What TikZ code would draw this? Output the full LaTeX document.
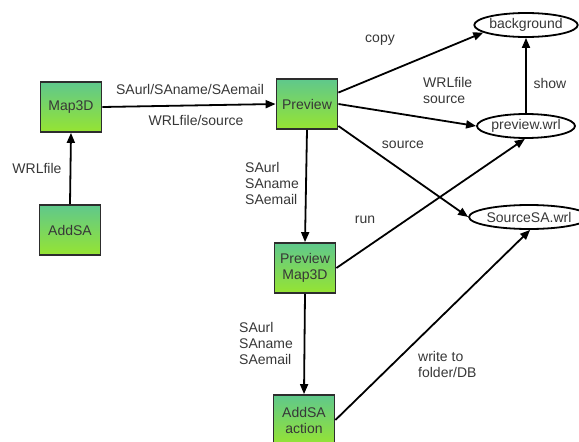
\documentclass[tikz,border=0pt]{standalone}
\usepackage{fontspec}
\setmainfont{Liberation Sans}
\usetikzlibrary{shapes.geometric,arrows.meta}
\definecolor{boxtop}{RGB}{95,200,140}
\definecolor{boxmid}{RGB}{50,190,80}
\definecolor{boxbot}{RGB}{150,228,50}
\definecolor{txt}{RGB}{55,55,55}
\definecolor{bord}{RGB}{45,45,45}
\tikzset{
  greenbox/.style={draw=bord, line width=1.8pt, top color=boxtop, middle color=boxmid, bottom color=boxbot,
    minimum width=61pt, minimum height=50pt, inner sep=0pt, align=center, text=txt},
  oval/.style={ellipse, draw=black, line width=1.8pt, minimum width=98pt, minimum height=24pt, inner sep=0pt, text=txt},
  lbl/.style={text=txt, inner sep=0pt},
  flow/.style={line width=1.8pt, -{Triangle[length=10pt,width=8pt]}}
}
\begin{document}
\begin{tikzpicture}[x=1pt,y=-1pt,font=\fontsize{14}{16}\selectfont]
\useasboundingbox (0,0) rectangle (579,442);
\begin{scope}
\clip (0,0) rectangle (579,442);
% boxes
\node[greenbox] (map) at (71,107) {Map3D};
\node[greenbox] (add) at (70,230) {AddSA};
\node[greenbox] (prev) at (307,104) {Preview};
\node[greenbox] (pm) at (305,268) {Preview\\Map3D};
\node[greenbox] (act) at (304,420) {AddSA\\action};
% ellipses
\node[oval] (bg) at (526,25) {background};
\node[oval] (pwrl) at (526,126) {preview.wrl};
\node[oval] (src) at (529,217) {SourceSA.wrl};
% connectors
\draw[flow] (add.north) -- (map.south);
\draw[flow] (map.east) -- (prev.west);
\draw[flow] (prev.20) -- (bg.190);
\draw[flow] (prev.east) -- (pwrl.west);
\draw[flow] (pwrl.north) -- (bg.south);
\draw[flow] (prev.-35) -- (src.west);
\draw[flow] (prev.south) -- (pm.north);
\draw[flow] (pm.east) -- (pwrl.265);
\draw[flow] (pm.south) -- (act.north);
\draw[flow] (act.east) -- (src.-85);
\end{scope}
% labels
\node[lbl] (l1) at (37,168) {WRLfile};
\node[lbl] (l2) at (190,89) {SAurl/SAname/SAemail};
\node[lbl] (l3) at (196,120) {WRLfile/source};
\node[lbl] (l4) at (380,40) {copy};
\node[lbl, anchor=west, align=left] (l5) at (423,90) {WRLfile\\source};
\node[lbl] (l6) at (550,83) {show};
\node[lbl] (l7) at (403,145) {source};
\node[lbl, anchor=west, align=left] (l8) at (245,183) {SAurl\\SAname\\SAemail};
\node[lbl] (l9) at (365,220) {run};
\node[lbl, anchor=west, align=left] (l10) at (239,343) {SAurl\\SAname\\SAemail};
\node[lbl, anchor=west, align=left] (l11) at (418,364) {write to\\folder/DB};
\end{tikzpicture}
\end{document}
